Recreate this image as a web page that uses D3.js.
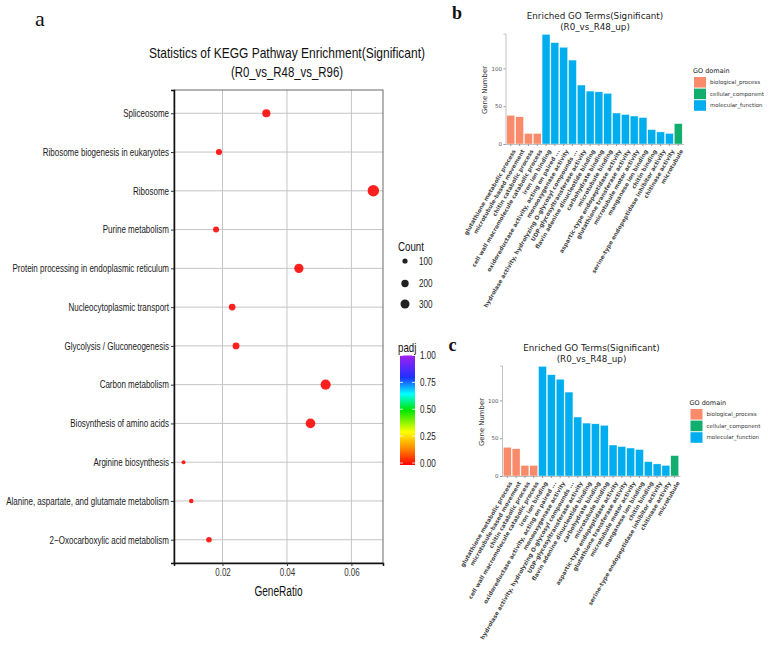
<!DOCTYPE html>
<html>
<head>
<meta charset="utf-8">
<script src="https://cdn.jsdelivr.net/npm/d3@7"></script>
<style>
  body { margin: 0; background: #fff; }
  svg { display: block; }
</style>
</head>
<body>
<div id="chart"></div>
<script>
// ---- panel a data (KEGG dot plot) ----
var keggTerms = ["Spliceosome", "Ribosome biogenesis in eukaryotes", "Ribosome", "Purine metabolism",
  "Protein processing in endoplasmic reticulum", "Nucleocytoplasmic transport", "Glycolysis / Gluconeogenesis",
  "Carbon metabolism", "Biosynthesis of amino acids", "Arginine biosynthesis",
  "Alanine, aspartate, and glutamate metabolism", "2\u2212Oxocarboxylic acid metabolism"];
var keggRatio = [0.0336, 0.0189, 0.0668, 0.0180, 0.0437, 0.0230, 0.0242, 0.0520, 0.0473, 0.0079, 0.0103, 0.0158];
var keggCount = [246, 138, 488, 132, 320, 168, 177, 380, 346, 58, 75, 116];
var keggPadj = [0.001, 0.002, 0.000, 0.003, 0.001, 0.004, 0.005, 0.001, 0.002, 0.006, 0.008, 0.004];
var ratioTicks = [0.02, 0.04, 0.06];
var countBreaks = [100, 200, 300];
var padjTicks = [0, 0.25, 0.5, 0.75, 1];

// ---- panels b / c data (GO bar chart) ----
var goTerms = ["glutathione metabolic process", "microtubule-based movement", "chitin catabolic process",
  "cell wall macromolecule catabolic process", "iron ion binding", "oxidoreductase activity, acting on paired ...",
  "monooxygenase activity", "hydrolase activity, hydrolyzing O-glycosyl compounds ...",
  "UDP-glycosyltransferase activity", "flavin adenine dinucleotide binding", "carbohydrate binding",
  "microtubule binding", "aspartic-type endopeptidase activity", "glutathione transferase activity",
  "microtubule motor activity", "manganese ion binding", "chitin binding",
  "serine-type endopeptidase inhibitor activity", "chitinase activity", "microtubule"];
var goCounts = [38, 36, 14, 14, 145, 134, 128, 111, 78, 70, 69, 67, 41, 39, 37, 35, 19, 16, 14, 27];
var goTermDomain = ["biological_process", "biological_process", "biological_process", "biological_process",
  "molecular_function", "molecular_function", "molecular_function", "molecular_function", "molecular_function",
  "molecular_function", "molecular_function", "molecular_function", "molecular_function", "molecular_function",
  "molecular_function", "molecular_function", "molecular_function", "molecular_function", "molecular_function",
  "cellular_component"];
var goDomains = ["biological_process", "cellular_component", "molecular_function"];
var goColors = ["#FA8B6A", "#12AE6E", "#00AEEF"];
var goTicks = [0, 50, 100];

var arial = "'Liberation Sans', Arial, sans-serif";
var sans = "'DejaVu Sans', Verdana, sans-serif";
var serif = "'Liberation Serif', 'Times New Roman', serif";

// squeeze Liberation Sans into an Arial-Narrow look
function narrow(sel, k) {
  sel.each(function () {
    var w = this.getComputedTextLength();
    d3.select(this).attr("textLength", w * k).attr("lengthAdjust", "spacingAndGlyphs");
  });
}

var svg = d3.select("#chart").append("svg")
  .attr("width", 772)
  .attr("height", 651);
svg.append("rect").attr("width", 772).attr("height", 651).attr("fill", "#fff");

// ================= panel a =================
svg.append("text").attr("x", 35).attr("y", 26)
  .attr("font-family", serif).attr("font-size", 22).attr("fill", "#111").text("a");

var pa = { left: 174, right: 383, top: 90, bottom: 563 };

var x = d3.scaleLinear().domain([0.00495, 0.0698]).range([pa.left, pa.right]);
var y = d3.scalePoint().domain(keggTerms).range([pa.top, pa.bottom]).padding(0.6);
var r = d3.scaleSqrt().domain([0, 500]).range([0, 5.8]);
var padjColor = d3.scaleLinear()
  .domain([0, 0.15, 0.3, 0.5, 0.65, 0.8, 1])
  .range(["#ff0000", "#ff8800", "#ffff00", "#00e600", "#00ffff", "#1e30ff", "#a020f0"]);

svg.append("text").attr("x", 287).attr("y", 58).attr("text-anchor", "middle")
  .attr("font-family", arial).attr("font-size", 15).attr("fill", "#111")
  .text("Statistics of KEGG Pathway Enrichment(Significant)").call(narrow, 0.8);
svg.append("text").attr("x", 287).attr("y", 77).attr("text-anchor", "middle")
  .attr("font-family", arial).attr("font-size", 15).attr("fill", "#111")
  .text("(R0_vs_R48_vs_R96)").call(narrow, 0.76);

// grid
var grid = svg.append("g");
grid.selectAll("line.v").data(ratioTicks).enter().append("line")
  .attr("x1", d => x(d)).attr("x2", d => x(d))
  .attr("y1", pa.top).attr("y2", pa.bottom)
  .attr("stroke", "#c4c4c4").attr("stroke-width", 1);
grid.selectAll("line.h").data(keggTerms).enter().append("line")
  .attr("x1", pa.left).attr("x2", pa.right)
  .attr("y1", d => y(d)).attr("y2", d => y(d))
  .attr("stroke", "#c4c4c4").attr("stroke-width", 1);

svg.append("rect").attr("x", pa.left).attr("y", pa.top)
  .attr("width", pa.right - pa.left).attr("height", pa.bottom - pa.top)
  .attr("fill", "none").attr("stroke", "#444").attr("stroke-width", 0.8);

// dots
svg.append("g").selectAll("circle").data(keggTerms).enter().append("circle")
  .attr("cx", (d, i) => x(keggRatio[i]))
  .attr("cy", d => y(d))
  .attr("r", (d, i) => r(keggCount[i]))
  .attr("fill", (d, i) => padjColor(keggPadj[i]))
  .attr("fill-opacity", 0.88);

// axes
var yAxis = svg.append("g").attr("transform", "translate(" + pa.left + ",0)")
  .call(d3.axisLeft(y).tickSize(3).tickPadding(2));
yAxis.select(".domain").attr("stroke", "#111").attr("stroke-width", 1.5);
yAxis.selectAll(".tick line").attr("stroke", "#333");
yAxis.selectAll(".tick text").attr("font-family", arial).attr("font-size", 10.4).attr("fill", "#1a1a1a")
  .call(narrow, 0.77);

var xAxis = svg.append("g").attr("transform", "translate(0," + pa.bottom + ")")
  .call(d3.axisBottom(x).tickValues(ratioTicks).tickFormat(d3.format(".2f")).tickSize(3).tickPadding(3));
xAxis.select(".domain").attr("stroke", "#111").attr("stroke-width", 1.5);
xAxis.selectAll(".tick line").attr("stroke", "#333");
xAxis.selectAll(".tick text").attr("font-family", arial).attr("font-size", 10).attr("fill", "#333")
  .call(narrow, 0.8);

svg.append("text").attr("x", (pa.left + pa.right) / 2).attr("y", 596).attr("text-anchor", "middle")
  .attr("font-family", arial).attr("font-size", 14).attr("fill", "#111").text("GeneRatio")
  .call(narrow, 0.72);

// Count legend
svg.append("text").attr("x", 398).attr("y", 251)
  .attr("font-family", arial).attr("font-size", 13.5).attr("fill", "#111").text("Count")
  .call(narrow, 0.72);
var cntLeg = svg.append("g").selectAll("g").data(countBreaks).enter().append("g")
  .attr("transform", (d, i) => "translate(405," + [261, 283.5, 304][i] + ")");
cntLeg.append("circle").attr("r", d => r(d)).attr("fill", "#222");
cntLeg.append("text").attr("x", 14).attr("y", 3.6)
  .attr("font-family", arial).attr("font-size", 10.4).attr("fill", "#222").text(d => d)
  .call(narrow, 0.78);

// padj colourbar
svg.append("text").attr("x", 398).attr("y", 352)
  .attr("font-family", arial).attr("font-size", 13.5).attr("fill", "#111").text("padj")
  .call(narrow, 0.72);
var cb = d3.scaleLinear().domain([0, 1]).range([463, 355.5]);
var grad = svg.append("defs").append("linearGradient").attr("id", "padjGrad")
  .attr("x1", "0%").attr("x2", "0%").attr("y1", "100%").attr("y2", "0%");
grad.selectAll("stop").data(d3.range(0, 1.001, 0.05)).enter().append("stop")
  .attr("offset", d => (d * 100) + "%").attr("stop-color", d => padjColor(d));
svg.append("rect").attr("x", 400).attr("y", cb(1)).attr("width", 15).attr("height", cb(0) - cb(1) + 2)
  .attr("fill", "url(#padjGrad)");
var cbTicks = svg.append("g").selectAll("g").data(padjTicks).enter().append("g")
  .attr("transform", d => "translate(0," + cb(d) + ")");
cbTicks.append("line").attr("x1", 400).attr("x2", 403).attr("stroke", "#fff").attr("stroke-width", 0.8);
cbTicks.append("line").attr("x1", 412).attr("x2", 415).attr("stroke", "#fff").attr("stroke-width", 0.8);
cbTicks.append("text").attr("x", 420).attr("y", 3.6)
  .attr("font-family", arial).attr("font-size", 10.4).attr("fill", "#222").text(d => d3.format(".2f")(d))
  .call(narrow, 0.78);

// ================= panels b and c =================
function drawGO(ox, oy, letter) {
  var g = svg.append("g").attr("transform", "translate(" + ox + "," + oy + ")");

  g.append("text").attr("x", 452).attr("y", 19)
    .attr("font-family", serif).attr("font-weight", "bold").attr("font-size", 18).attr("fill", "#111").text(letter);

  var xb = d3.scaleBand().domain(goTerms).range([505.5, 683.5]).paddingInner(0.1).paddingOuter(0.15);
  var yb = d3.scaleLinear().domain([0, 146]).range([144, 33.6]);
  var col = d3.scaleOrdinal().domain(goDomains).range(goColors);

  g.append("text").attr("x", 595).attr("y", 19).attr("text-anchor", "middle")
    .attr("font-family", sans).attr("font-size", 8.75).attr("fill", "#222")
    .text("Enriched GO Terms(Significant)");
  g.append("text").attr("x", 595).attr("y", 29.5).attr("text-anchor", "middle")
    .attr("font-family", sans).attr("font-size", 8.75).attr("fill", "#222")
    .text("(R0_vs_R48_up)");

  g.append("g").selectAll("rect").data(goTerms).enter().append("rect")
    .attr("x", d => xb(d))
    .attr("y", (d, i) => yb(goCounts[i]))
    .attr("width", xb.bandwidth())
    .attr("height", (d, i) => yb(0) - yb(goCounts[i]))
    .attr("fill", (d, i) => col(goTermDomain[i]))
    .attr("stroke", "#fff").attr("stroke-width", 0.4);

  var ya = g.append("g").attr("transform", "translate(505.5,0)")
    .call(d3.axisLeft(yb).tickValues(goTicks).tickSize(2).tickPadding(1.5));
  ya.select(".domain").attr("stroke", "#999").attr("stroke-width", 0.6);
  ya.selectAll(".tick line").attr("stroke", "#999");
  ya.selectAll(".tick text").attr("font-family", sans).attr("font-size", 5.5).attr("fill", "#555");

  var xa = g.append("g").attr("transform", "translate(0,144)")
    .call(d3.axisBottom(xb).tickSize(2).tickSizeOuter(0).tickPadding(2));
  xa.select(".domain").attr("stroke", "#999").attr("stroke-width", 0.6);
  xa.selectAll(".tick line").attr("stroke", "#999");
  xa.selectAll(".tick text")
    .attr("font-family", sans).attr("font-size", 5.7).attr("font-weight", "bold").attr("fill", "#444")
    .attr("text-anchor", "end").attr("dy", "0.35em")
    .attr("transform", "translate(0,4) rotate(-60)");

  g.append("text").attr("transform", "translate(487,90) rotate(-90)").attr("text-anchor", "middle")
    .attr("font-family", sans).attr("font-size", 6.9).attr("fill", "#333").text("Gene Number");

  // legend
  g.append("text").attr("x", 693).attr("y", 72.5)
    .attr("font-family", sans).attr("font-size", 6.5).attr("fill", "#222").text("GO domain");
  var lg = g.append("g").selectAll("g").data(goDomains).enter().append("g")
    .attr("transform", (d, i) => "translate(694," + (77 + i * 11.6) + ")");
  lg.append("rect").attr("width", 12).attr("height", 10.6).attr("fill", d => col(d));
  lg.append("text").attr("x", 16).attr("y", 7.3)
    .attr("font-family", sans).attr("font-size", 5.5).attr("fill", "#333").text(d => d);
}

drawGO(0, 0, "b");
drawGO(-3.5, 332, "c");
</script>
</body>
</html>
